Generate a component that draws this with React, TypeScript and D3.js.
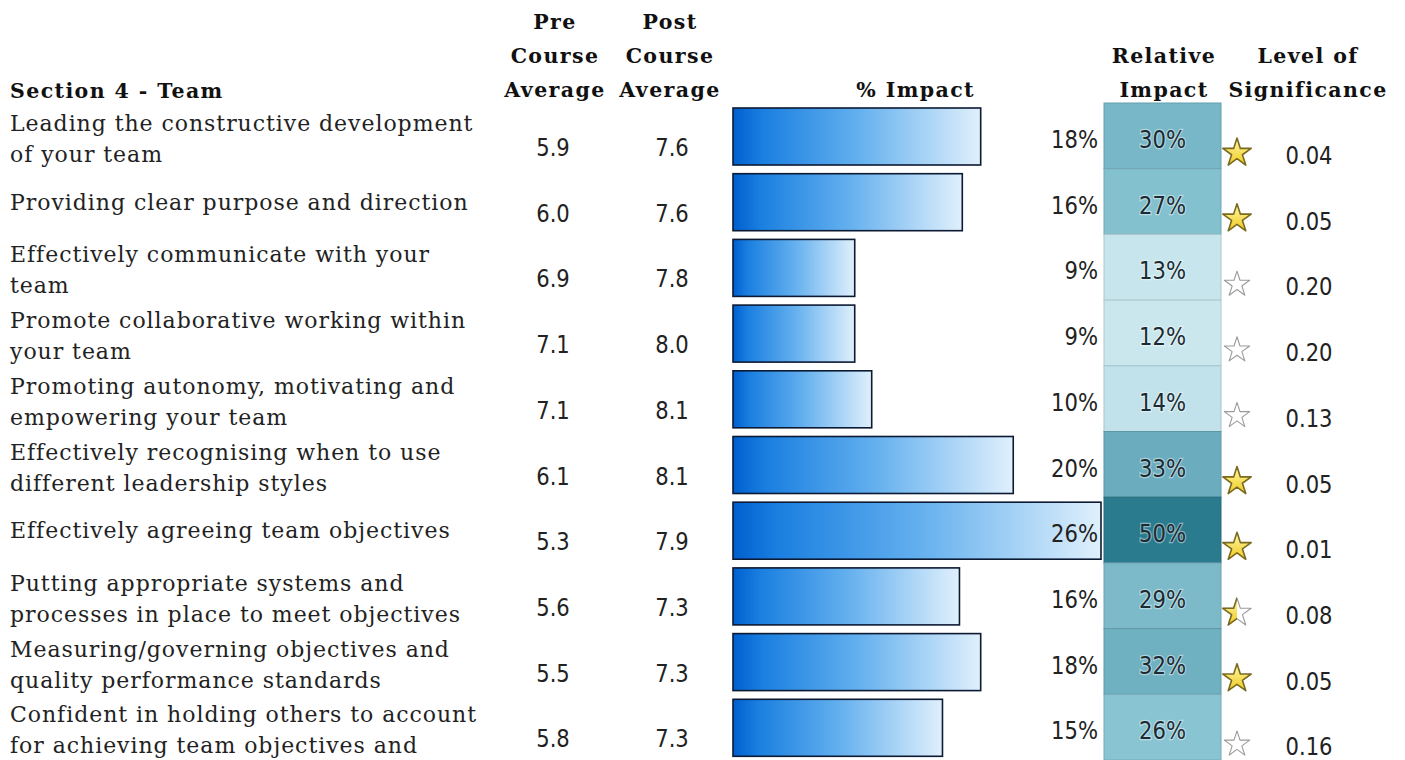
import React from "react";
import * as d3 from "d3";

const labels: string[][] = [
  ["Leading the constructive development", "of your team"],
  ["Providing clear purpose and direction"],
  ["Effectively communicate with your", "team"],
  ["Promote collaborative working within", "your team"],
  ["Promoting autonomy, motivating and", "empowering your team"],
  ["Effectively recognising when to use", "different leadership styles"],
  ["Effectively agreeing team objectives"],
  ["Putting appropriate systems and", "processes in place to meet objectives"],
  ["Measuring/governing objectives and", "quality performance standards"],
  ["Confident in holding others to account", "for achieving team objectives and"],
];
const preAvg = [5.9, 6.0, 6.9, 7.1, 7.1, 6.1, 5.3, 5.6, 5.5, 5.8];
const postAvg = [7.6, 7.6, 7.8, 8.0, 8.1, 8.1, 7.9, 7.3, 7.3, 7.3];
const impact = [17.5, 16.2, 8.6, 8.6, 9.8, 19.8, 26.0, 16.0, 17.5, 14.8];
const relImpact = [30, 27, 13, 12, 14, 33, 50, 29, 32, 26];
const significance = [0.04, 0.05, 0.2, 0.2, 0.13, 0.05, 0.01, 0.08, 0.05, 0.16];
const starLevel = [1, 1, 0, 0, 0, 1, 1, 0.5, 1, 0];

const SERIF = "'DejaVu Serif', serif";
const SANS = "'DejaVu Sans', sans-serif";

function Num({ x, y, anchor, children, style }: any) {
  return (
    <text
      transform={`translate(${x},${y}) scale(0.88,1)`}
      textAnchor={anchor}
      style={{ fontFamily: SANS, fontSize: 24, fill: "#222", ...style }}
    >
      {children}
    </text>
  );
}

export default function App() {
  const n = labels.length;
  const y = d3
    .scaleBand<number>()
    .domain(d3.range(n))
    .range([103, 103 + n * 65.7])
    .paddingInner(0);
  const step = y.bandwidth();
  const x = d3
    .scaleLinear()
    .domain([0, d3.max(impact) as number])
    .range([733, 1101]);
  const color = d3
    .scaleLinear<string>()
    .domain([12, 26, 33, 50])
    .range(["#cbe7ee", "#88c4d2", "#6badbe", "#2b7b8f"]);
  const fullStar = d3.symbol(d3.symbolStar, 250)() as string;
  const emptyStar = d3.symbol(d3.symbolStar, 200)() as string;

  const headerStyle = {
    fontFamily: SERIF,
    fontWeight: 700,
    fontSize: 20.5,
    letterSpacing: 1.4,
    fill: "#111",
  };

  return (
    <svg
      width={1405}
      height={760}
      style={{ position: "fixed", left: 0, top: 0, background: "#fff" }}
    >
      <defs>
        <linearGradient id="barGrad" x1="0" x2="1" y1="0" y2="0">
          <stop offset="0" stopColor="#005fcf" />
          <stop offset="0.12" stopColor="#1a7fe0" />
          <stop offset="0.5" stopColor="#62afee" />
          <stop offset="1" stopColor="#e0f0fc" />
        </linearGradient>
        <linearGradient id="starGrad" x1="0" x2="0" y1="0" y2="1">
          <stop offset="0" stopColor="#fff6a8" />
          <stop offset="1" stopColor="#f0cc20" />
        </linearGradient>
        <clipPath id="halfClip">
          <rect x={-20} y={-20} width={20} height={40} />
        </clipPath>
      </defs>

      {/* headers */}
      <text x={10} y={98} style={headerStyle}>Section 4 - Team</text>
      {["Pre", "Course", "Average"].map((t, k) => (
        <text key={"pre" + k} x={555} y={29 + k * 34} textAnchor="middle" style={headerStyle}>{t}</text>
      ))}
      {["Post", "Course", "Average"].map((t, k) => (
        <text key={"post" + k} x={670} y={29 + k * 34} textAnchor="middle" style={headerStyle}>{t}</text>
      ))}
      <text x={975} y={97} textAnchor="end" style={headerStyle}>% Impact</text>
      {["Relative", "Impact"].map((t, k) => (
        <text key={"rel" + k} x={1164} y={63 + k * 34} textAnchor="middle" style={headerStyle}>{t}</text>
      ))}
      {["Level of", "Significance"].map((t, k) => (
        <text key={"sig" + k} x={1308} y={63 + k * 34} textAnchor="middle" style={headerStyle}>{t}</text>
      ))}

      {d3.range(n).map((i) => {
        const top = y(i) as number;
        const lines = labels[i];
        const lvl = starLevel[i];
        const fill = color(relImpact[i]);
        return (
          <g key={i}>
            {lines.map((t, k) => (
              <text
                key={k}
                x={10}
                y={lines.length === 1 ? top + 41 : top + 28 + k * 31}
                style={{ fontFamily: SERIF, fontSize: 22, letterSpacing: 0.95, fill: "#222" }}
              >
                {t}
              </text>
            ))}
            <Num x={553} y={top + 53} anchor="middle">{d3.format(".1f")(preAvg[i])}</Num>
            <Num x={672} y={top + 53} anchor="middle">{d3.format(".1f")(postAvg[i])}</Num>
            <rect
              x={x(0)}
              y={top + 5}
              width={x(impact[i]) - x(0)}
              height={57}
              fill="url(#barGrad)"
              stroke="#0d1a33"
              strokeWidth={1.6}
            />
            <Num x={1098} y={top + 45} anchor="end">{Math.round(impact[i])}%</Num>
            <rect
              x={1104}
              y={top}
              width={117}
              height={step}
              fill={fill}
              stroke={d3.color(fill)!.darker(0.4).toString()}
              strokeWidth={1}
            />
            <Num
              x={1162.5}
              y={top + 45}
              anchor="middle"
              style={{ fill: "#1b2b33", stroke: "rgba(255,255,255,0.45)", strokeWidth: 2.5, paintOrder: "stroke" }}
            >
              {relImpact[i]}%
            </Num>
            <g transform={`translate(1237,${top + 50})`}>
              <path
                d={lvl > 0 ? fullStar : emptyStar}
                fill={lvl >= 1 ? "url(#starGrad)" : "#fff"}
                stroke={lvl >= 1 ? "#7a6a20" : "#9a9a9a"}
                strokeWidth={lvl >= 1 ? 1.6 : 1.1}
                strokeLinejoin="round"
              />
              {lvl > 0 && lvl < 1 && (
                <path
                  d={fullStar}
                  fill="url(#starGrad)"
                  stroke="#7a6a20"
                  strokeWidth={1.6}
                  strokeLinejoin="round"
                  clipPath="url(#halfClip)"
                />
              )}
            </g>
            <Num x={1309} y={top + 61} anchor="middle">{d3.format(".2f")(significance[i])}</Num>
          </g>
        );
      })}
    </svg>
  );
}
